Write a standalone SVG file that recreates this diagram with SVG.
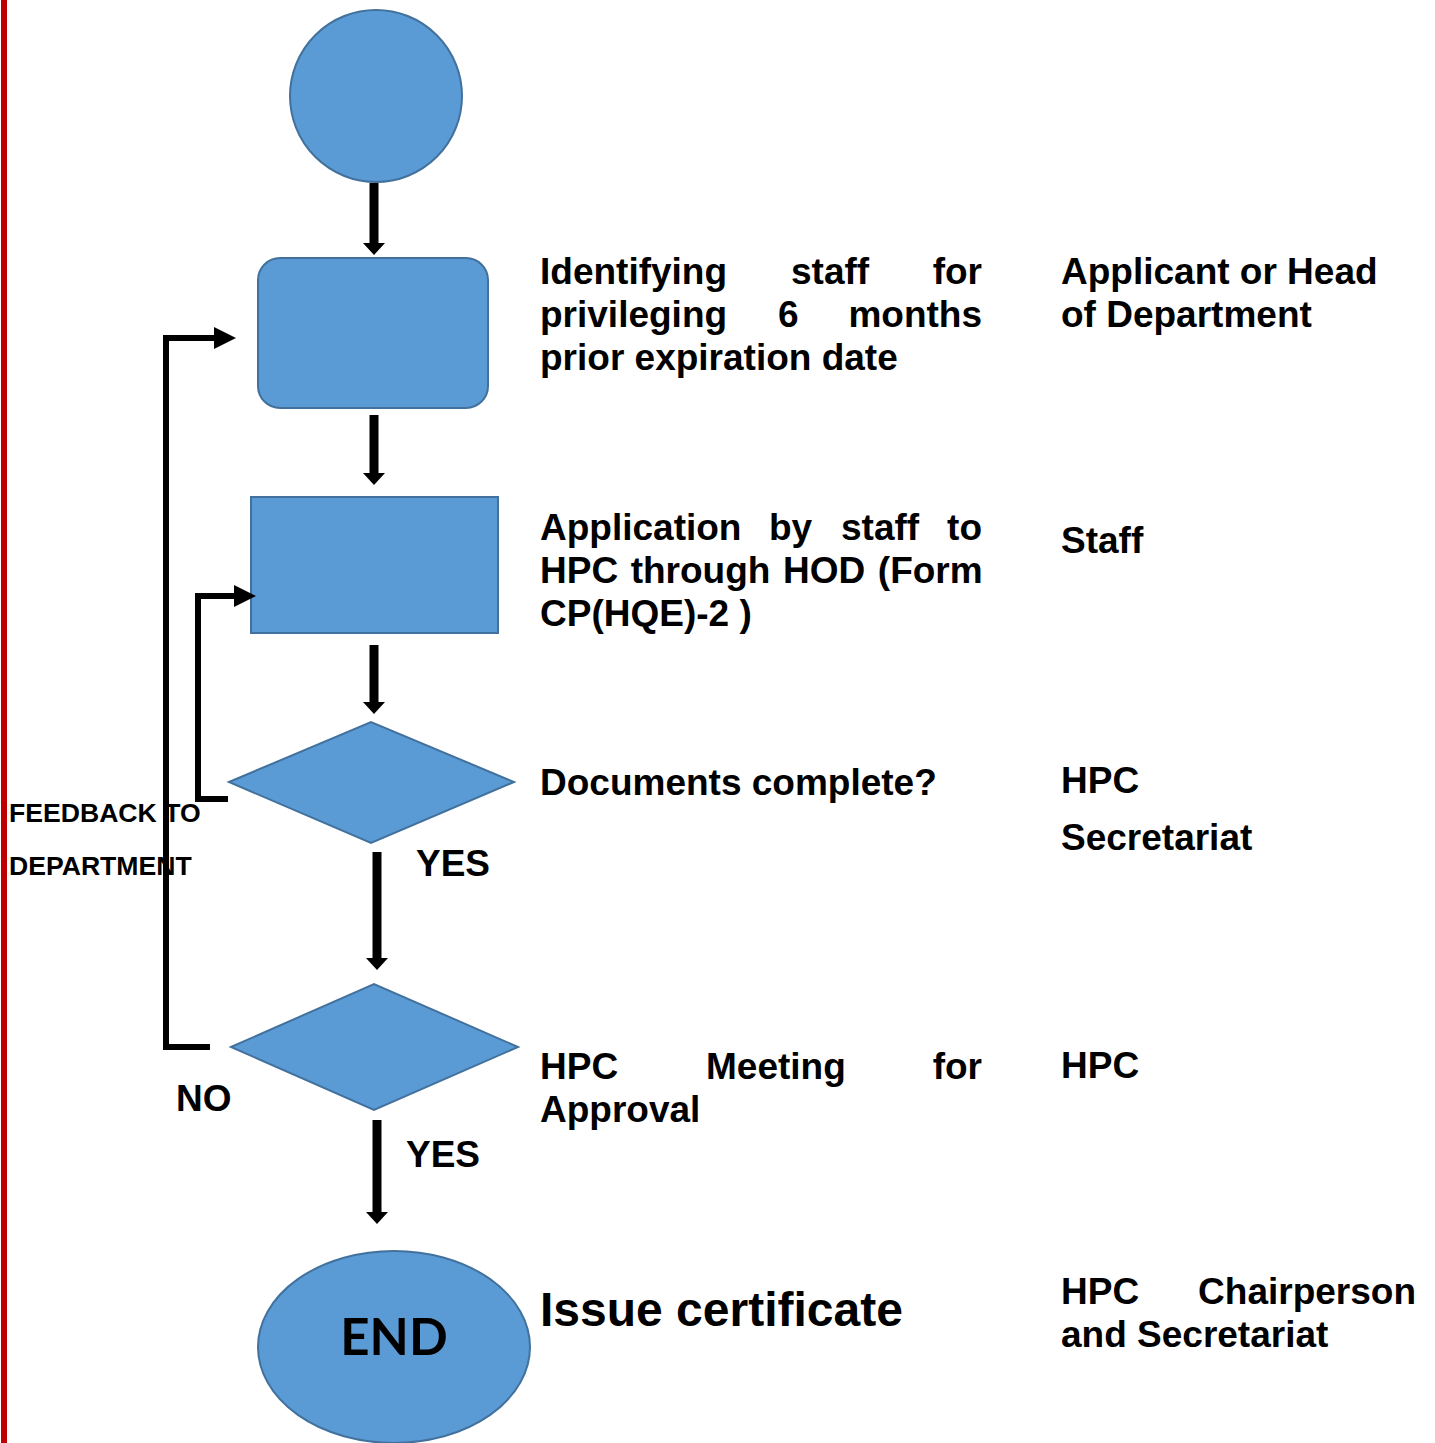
<svg xmlns="http://www.w3.org/2000/svg" width="1435" height="1443" viewBox="0 0 1435 1443">
<style>
.t{font-family:"Liberation Sans",Arial,sans-serif;font-weight:bold;font-size:37px;fill:#000}
.shape{fill:#5B9BD5;stroke:#41719C;stroke-width:2}
.big{font-size:48px}
.small{font-size:26.6px}
.end{font-family:Lato,"Open Sans",sans-serif;font-weight:bold;font-size:51px;fill:#000}
.v{stroke:#000;stroke-width:9;fill:none}
.fb{stroke:#000;stroke-width:6;fill:none}
</style>
<defs>
<marker id="ah" markerUnits="userSpaceOnUse" markerWidth="12" markerHeight="22" refX="0" refY="11" orient="auto">
<path d="M0,0 L12,11 L0,22 Z" fill="#000"/>
</marker>
<marker id="ah2" markerUnits="userSpaceOnUse" markerWidth="22" markerHeight="22" refX="0" refY="11" orient="auto">
<path d="M0,0 L22,11 L0,22 Z" fill="#000"/>
</marker>
</defs>
<rect x="1" y="0" width="6" height="1443" fill="#C00000"/>

<g id="start"><circle class="shape" cx="376" cy="96" r="86"/></g>
<g id="identify"><rect class="shape" x="258" y="258" width="230" height="150" rx="22"/></g>
<g id="application"><rect class="shape" x="251" y="497" width="247" height="136"/></g>
<g id="docs"><polygon class="shape" points="229,782 371,722 514,782 371,843"/></g>
<g id="meeting"><polygon class="shape" points="231,1047 374,984 518,1047 374,1110"/></g>
<g id="end"><ellipse class="shape" cx="394" cy="1347" rx="136" ry="96"/>
<text class="end" x="394" y="1355" text-anchor="middle">END</text></g>

<g id="connectors">
<line class="v" x1="374" y1="183" x2="374" y2="243" marker-end="url(#ah)"/>
<line class="v" x1="374" y1="415" x2="374" y2="473" marker-end="url(#ah)"/>
<line class="v" x1="374" y1="645" x2="374" y2="702" marker-end="url(#ah)"/>
<line class="v" x1="377" y1="852" x2="377" y2="958" marker-end="url(#ah)"/>
<line class="v" x1="377" y1="1120" x2="377" y2="1212" marker-end="url(#ah)"/>
<polyline class="fb" points="210,1047 166,1047 166,338 214,338" marker-end="url(#ah2)"/>
<polyline class="fb" points="228,799 198,799 198,596 234,596" marker-end="url(#ah2)"/>
</g>

<g id="labels">
<text class="t" x="540" y="284">Identifying</text>
<text class="t" x="791" y="284">staff</text>
<text class="t" x="982" y="284" text-anchor="end">for</text>
<text class="t" x="540" y="327">privileging</text>
<text class="t" x="778" y="327">6</text>
<text class="t" x="982" y="327" text-anchor="end">months</text>
<text class="t" x="540" y="370">prior expiration date</text>

<text class="t" x="540" y="540">Application</text>
<text class="t" x="769" y="540">by</text>
<text class="t" x="841" y="540">staff</text>
<text class="t" x="982" y="540" text-anchor="end">to</text>
<text class="t" x="540" y="583" word-spacing="2.3">HPC through HOD (Form</text>
<text class="t" x="540" y="626">CP(HQE)-2 )</text>

<text class="t" x="540" y="795">Documents complete?</text>

<text class="t" x="540" y="1079">HPC</text>
<text class="t" x="706" y="1079">Meeting</text>
<text class="t" x="982" y="1079" text-anchor="end">for</text>
<text class="t" x="540" y="1122">Approval</text>

<text class="t big" x="540" y="1326">Issue certificate</text>

<text class="t" x="1061" y="284">Applicant or Head</text>
<text class="t" x="1061" y="327">of Department</text>
<text class="t" x="1061" y="553">Staff</text>
<text class="t" x="1061" y="793">HPC</text>
<text class="t" x="1061" y="850">Secretariat</text>
<text class="t" x="1061" y="1078">HPC</text>
<text class="t" x="1061" y="1304">HPC</text>
<text class="t" x="1416" y="1304" text-anchor="end">Chairperson</text>
<text class="t" x="1061" y="1347">and Secretariat</text>

<text class="t" x="416" y="876">YES</text>
<text class="t" x="406" y="1167">YES</text>
<text class="t" x="176" y="1111">NO</text>
<text class="t small" x="9" y="822">FEEDBACK TO</text>
<text class="t small" x="9" y="875">DEPARTMENT</text>
</g>
</svg>
